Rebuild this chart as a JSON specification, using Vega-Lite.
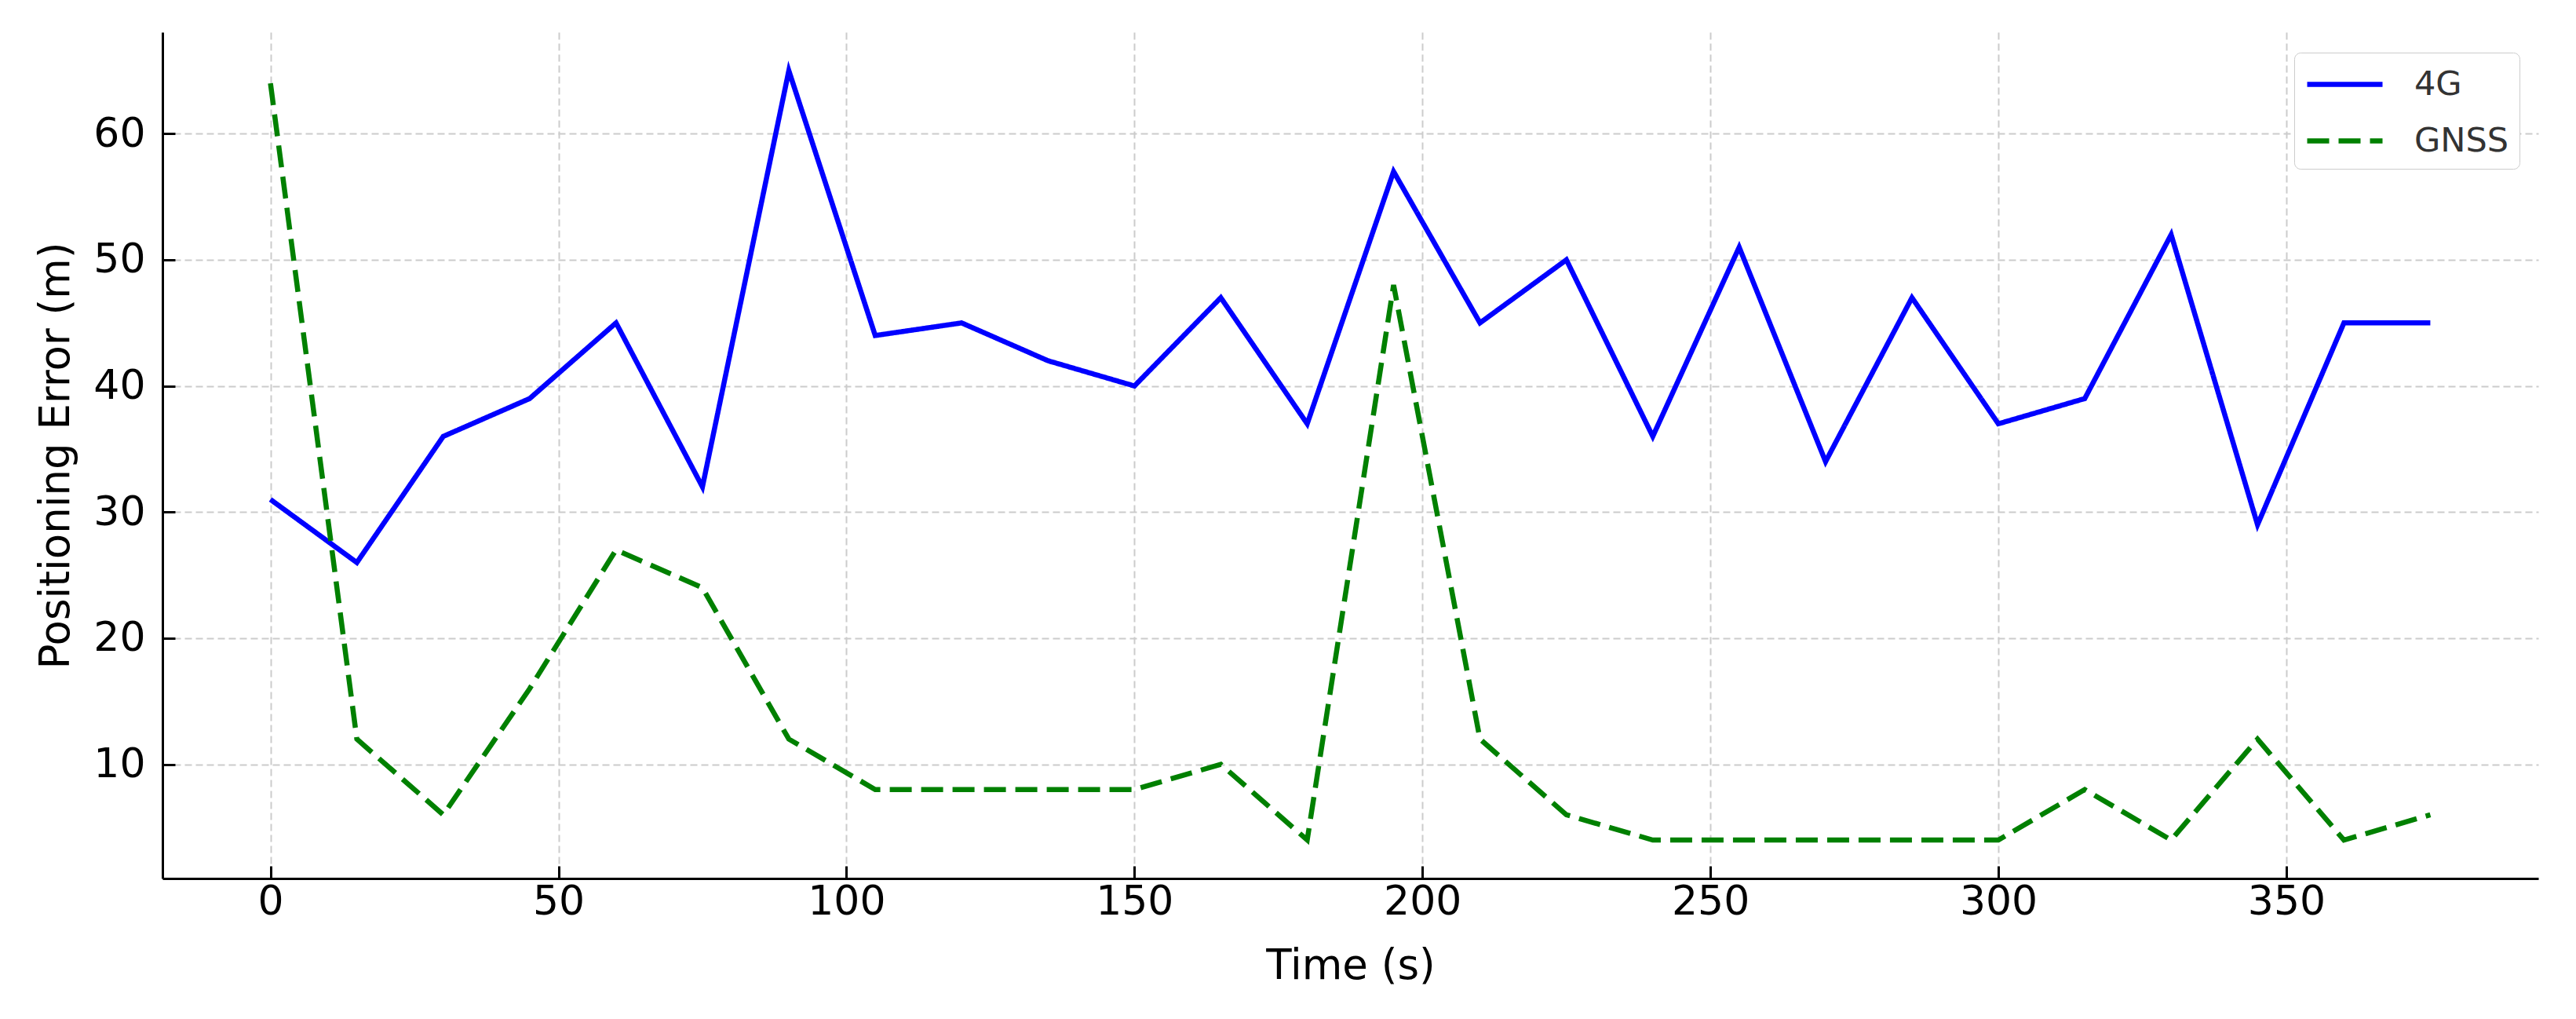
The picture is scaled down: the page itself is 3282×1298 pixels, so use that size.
{
  "$schema": "https://vega.github.io/schema/vega-lite/v6.json",
  "autosize": "none",
  "padding": {"left": 207, "top": 41, "right": 48, "bottom": 179},
  "width": 3027,
  "height": 1078,
  "background": "white",
  "config": {
    "view": {"stroke": null},
    "font": "DejaVu Sans"
  },
  "data": {
    "values": [
      {"t": 0, "series": "4G", "err": 31}, {"t": 15, "series": "4G", "err": 26}, {"t": 30, "series": "4G", "err": 36}, {"t": 45, "series": "4G", "err": 39},
      {"t": 60, "series": "4G", "err": 45}, {"t": 75, "series": "4G", "err": 32}, {"t": 90, "series": "4G", "err": 65}, {"t": 105, "series": "4G", "err": 44},
      {"t": 120, "series": "4G", "err": 45}, {"t": 135, "series": "4G", "err": 42}, {"t": 150, "series": "4G", "err": 40}, {"t": 165, "series": "4G", "err": 47},
      {"t": 180, "series": "4G", "err": 37}, {"t": 195, "series": "4G", "err": 57}, {"t": 210, "series": "4G", "err": 45}, {"t": 225, "series": "4G", "err": 50},
      {"t": 240, "series": "4G", "err": 36}, {"t": 255, "series": "4G", "err": 51}, {"t": 270, "series": "4G", "err": 34}, {"t": 285, "series": "4G", "err": 47},
      {"t": 300, "series": "4G", "err": 37}, {"t": 315, "series": "4G", "err": 39}, {"t": 330, "series": "4G", "err": 52}, {"t": 345, "series": "4G", "err": 29},
      {"t": 360, "series": "4G", "err": 45}, {"t": 375, "series": "4G", "err": 45},
      {"t": 0, "series": "GNSS", "err": 64}, {"t": 15, "series": "GNSS", "err": 12}, {"t": 30, "series": "GNSS", "err": 6}, {"t": 45, "series": "GNSS", "err": 16},
      {"t": 60, "series": "GNSS", "err": 27}, {"t": 75, "series": "GNSS", "err": 24}, {"t": 90, "series": "GNSS", "err": 12}, {"t": 105, "series": "GNSS", "err": 8},
      {"t": 120, "series": "GNSS", "err": 8}, {"t": 135, "series": "GNSS", "err": 8}, {"t": 150, "series": "GNSS", "err": 8}, {"t": 165, "series": "GNSS", "err": 10},
      {"t": 180, "series": "GNSS", "err": 4}, {"t": 195, "series": "GNSS", "err": 48}, {"t": 210, "series": "GNSS", "err": 12}, {"t": 225, "series": "GNSS", "err": 6},
      {"t": 240, "series": "GNSS", "err": 4}, {"t": 255, "series": "GNSS", "err": 4}, {"t": 270, "series": "GNSS", "err": 4}, {"t": 285, "series": "GNSS", "err": 4},
      {"t": 300, "series": "GNSS", "err": 4}, {"t": 315, "series": "GNSS", "err": 8}, {"t": 330, "series": "GNSS", "err": 4}, {"t": 345, "series": "GNSS", "err": 12},
      {"t": 360, "series": "GNSS", "err": 4}, {"t": 375, "series": "GNSS", "err": 6}
    ]
  },
  "mark": {"type": "line", "strokeWidth": 6.5, "clip": true},
  "encoding": {
    "x": {
      "field": "t", "type": "quantitative",
      "scale": {"domain": [-18.75, 393.75], "nice": false, "zero": false},
      "axis": {
        "title": "Time (s)", "values": [0, 50, 100, 150, 200, 250, 300, 350],
        "titleFontSize": 53, "titleFontWeight": "normal", "titleColor": "black", "titlePadding": 30,
        "labelFontSize": 52, "labelColor": "black", "labelPadding": 20,
        "domainColor": "black", "domainWidth": 3, "tickColor": "black", "tickWidth": 3, "tickSize": -16,
        "grid": true, "gridColor": "#cccccc", "gridWidth": 2, "gridDash": [9, 5]
      }
    },
    "y": {
      "field": "err", "type": "quantitative",
      "scale": {"domain": [0.95, 68.05], "nice": false, "zero": false},
      "axis": {
        "title": "Positioning Error (m)", "values": [10, 20, 30, 40, 50, 60],
        "titleFontSize": 53, "titleFontWeight": "normal", "titleColor": "black", "titlePadding": 20,
        "labelFontSize": 52, "labelColor": "black", "labelPadding": 38,
        "domainColor": "black", "domainWidth": 3, "tickColor": "black", "tickWidth": 3, "tickSize": -16,
        "grid": true, "gridColor": "#cccccc", "gridWidth": 2, "gridDash": [9, 5]
      }
    },
    "color": {
      "field": "series", "type": "nominal",
      "scale": {"domain": ["4G", "GNSS"], "range": ["#0000ff", "#008000"]},
      "legend": {
        "title": null, "orient": "none", "legendX": 2716, "legendY": 26,
        "symbolType": "M-1,0H3", "symbolSize": 2304, "symbolStrokeWidth": 6.5,
        "labelFontSize": 43, "labelColor": "#333333", "labelOffset": 85,
        "rowPadding": 22, "padding": 13,
        "fillColor": "white", "strokeColor": "#cccccc", "cornerRadius": 8
      }
    },
    "strokeDash": {
      "field": "series", "type": "nominal",
      "scale": {"domain": ["4G", "GNSS"], "range": [[1, 0], [28, 12]]},
      "legend": null
    }
  }
}
